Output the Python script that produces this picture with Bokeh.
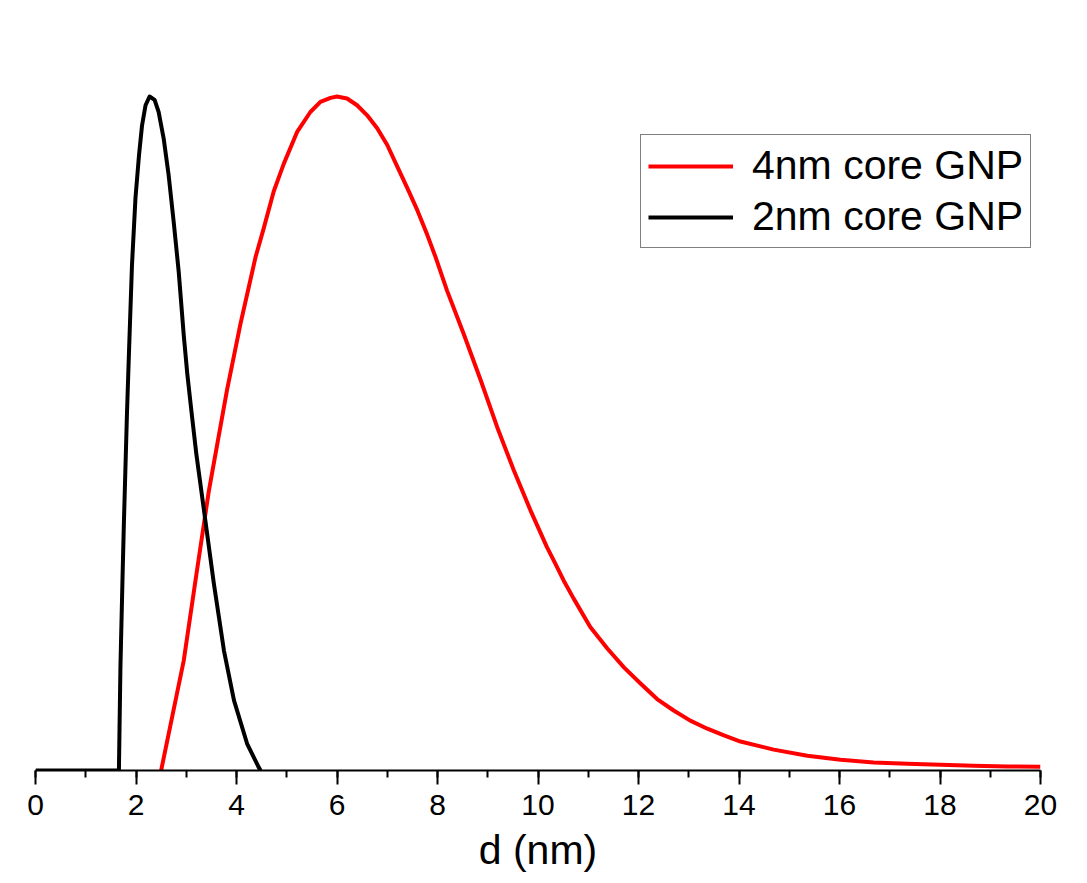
from bokeh.plotting import figure
from bokeh.models import Range1d, SingleIntervalTicker, Legend, LegendItem
from bokeh.embed import file_html
from bokeh.resources import INLINE

# 4nm core GNP (red) size distribution, normalized
red_d = [2.5, 2.95, 3.2, 3.45, 3.81, 4.08, 4.38, 4.54, 4.74, 4.94, 5.21, 5.47, 5.67,
         5.87, 6.0, 6.2, 6.4, 6.6, 6.8, 7.0, 7.2, 7.4, 7.6, 7.8, 7.96, 8.19, 8.52,
         8.86, 9.19, 9.52, 9.85, 10.18, 10.31, 10.51, 10.71, 11.04, 11.38, 11.71,
         12.04, 12.37, 12.70, 13.03, 13.37, 13.70, 14.03, 14.69, 15.36, 16.02,
         16.68, 17.35, 18.01, 18.67, 19.34, 20.0]
red_y = [0.0, 0.163, 0.29, 0.415, 0.564, 0.663, 0.762, 0.804, 0.859, 0.900, 0.948,
         0.977, 0.992, 0.998, 1.0, 0.997, 0.987, 0.972, 0.953, 0.928, 0.896, 0.864,
         0.831, 0.794, 0.762, 0.712, 0.648, 0.579, 0.509, 0.445, 0.386, 0.331, 0.312,
         0.282, 0.255, 0.213, 0.181, 0.153, 0.129, 0.106, 0.089, 0.074, 0.062, 0.052,
         0.043, 0.031, 0.022, 0.016, 0.012, 0.0099, 0.0085, 0.007, 0.0059, 0.0055]

# 2nm core GNP (black) size distribution, normalized
black_d = [0.0, 1.0, 1.66, 1.69, 1.73, 1.76, 1.82, 1.86, 1.92, 1.99, 2.06, 2.12, 2.19,
           2.27, 2.37, 2.45, 2.55, 2.65, 2.75, 2.85, 2.95, 3.02, 3.10, 3.20, 3.38,
           3.55, 3.75, 3.95, 4.21, 4.44, 4.48]
black_y = [0.0, 0.0, 0.0, 0.153, 0.28, 0.37, 0.529, 0.62, 0.75, 0.85, 0.913, 0.957,
           0.987, 1.0, 0.995, 0.977, 0.938, 0.883, 0.814, 0.740, 0.646, 0.589, 0.535,
           0.47, 0.371, 0.277, 0.178, 0.104, 0.040, 0.005, 0.0]

labels = ["4nm core GNP", "2nm core GNP"]
x_label = "d (nm)"

FONT = "Liberation Sans"

p = figure(width=1071, height=883, output_backend="svg", toolbar_location=None,
           x_range=Range1d(0, 20), y_range=Range1d(0, 1.089),
           min_border_left=35, min_border_right=31, min_border_top=36,
           min_border_bottom=113, outline_line_color=None)

p.yaxis.visible = False
p.xgrid.visible = False
p.ygrid.visible = False

ax = p.xaxis[0]
ax.ticker = SingleIntervalTicker(interval=2, num_minor_ticks=2)
ax.axis_line_width = 2
ax.axis_line_color = "black"
ax.major_tick_line_width = 2
ax.major_tick_line_color = "black"
ax.major_tick_in = 0
ax.major_tick_out = 14
ax.minor_tick_line_width = 2
ax.minor_tick_line_color = "black"
ax.minor_tick_in = 0
ax.minor_tick_out = 7
ax.major_label_text_font = FONT
ax.major_label_text_font_size = "30px"
ax.major_label_text_color = "black"
ax.major_label_standoff = 10
ax.axis_label = x_label
ax.axis_label_text_font = FONT
ax.axis_label_text_font_size = "41px"
ax.axis_label_text_font_style = "normal"
ax.axis_label_text_color = "black"
ax.axis_label_standoff = 9

r_red = p.line(red_d, red_y, line_color="#ff0000", line_width=4,
               line_join="round")
r_black = p.line(black_d, black_y, line_color="black", line_width=4,
                 line_join="round")

legend = Legend(items=[LegendItem(label=labels[0], renderers=[r_red]),
                       LegendItem(label=labels[1], renderers=[r_black])],
                location=(605, 522), orientation="vertical",
                label_text_font=FONT, label_text_font_size="41px",
                label_text_color="black",
                glyph_width=85, glyph_height=44, label_height=44,
                label_standoff=19, spacing=4, padding=7, margin=0,
                border_line_color="black", border_line_width=1.2,
                background_fill_alpha=1.0)
p.add_layout(legend)

open("out.html", "w").write(file_html(p, INLINE))
